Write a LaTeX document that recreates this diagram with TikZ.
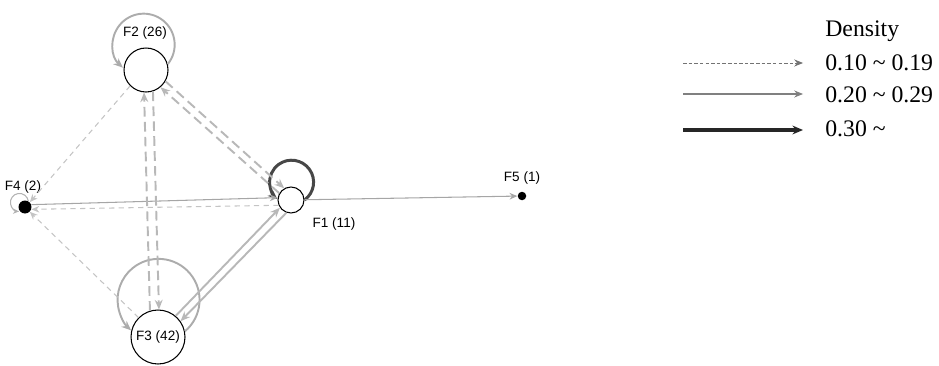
\documentclass[tikz,border=0pt]{standalone}
\usepackage{fontspec}
\setmainfont{Liberation Serif}
\setsansfont{Liberation Sans}
\usetikzlibrary{arrows.meta,positioning}
\definecolor{lightedge}{HTML}{C4C4C4}
\definecolor{midedge}{HTML}{B8B8B8}
\definecolor{darkloop}{HTML}{474747}
\tikzstyle{fnode}=[circle,draw=black,fill=white,line width=0.6pt,inner sep=0pt]
\tikzstyle{fdot}=[circle,fill=black,inner sep=0pt]
\tikzstyle{flabel}=[font=\sffamily\fontsize{7.7}{9}\selectfont,inner sep=1pt]
\tikzstyle{legtext}=[font=\fontsize{13.5}{16}\selectfont,anchor=west,inner sep=0pt]
\tikzstyle{weak}=[-{Stealth[length=4.5pt,width=3.8pt]},draw=lightedge,line width=0.6pt,dash pattern=on 3pt off 2.5pt]
\tikzstyle{middash}=[-{Stealth[length=5.5pt,width=4.5pt]},draw=midedge,line width=1.1pt,dash pattern=on 5.5pt off 3pt]
\tikzstyle{midsolid}=[-{Stealth[length=5.5pt,width=4.5pt]},draw=midedge,line width=1.1pt]
\tikzstyle{thinsolid}=[-{Stealth[length=4.5pt,width=3.8pt]},draw=gray!70,line width=0.6pt]
\tikzstyle{loopedge}=[-{Stealth[length=5.5pt,width=4.5pt]},draw=gray!65,line width=1.1pt]

\begin{document}
\begin{tikzpicture}[x=0.02cm,y=0.02cm]
\useasboundingbox (0,0) rectangle (939,-365);
% nodes
\node[fnode,minimum size=0.88cm] (F2) at (146,-70) {};
\node[fnode,minimum size=0.52cm] (F1) at (291,-200) {};
\node[fnode,minimum size=1.08cm,flabel] (F3) at (158,-337) {F3 (42)};
\node[fdot,minimum size=0.26cm] (F4) at (25,-207) {};
\node[fdot,minimum size=0.17cm] (F5) at (522,-196) {};
\node[flabel] (F2lab) at (145,-33) {F2 (26)};
\node[flabel] (F1lab) at (334,-224) {F1 (11)};
\node[flabel] (F4lab) at (23,-187) {F4 (2)};
\node[flabel] (F5lab) at (522,-178) {F5 (1)};
% loops
\draw[loopedge] (F2.15) arc[start angle=-39,end angle=228,radius=31];
\draw[loopedge] (F3.12) arc[start angle=-50,end angle=228,radius=41];
\draw[loopedge,draw=darkloop,line width=1.7pt] (F1.0) arc[start angle=-54,end angle=230,radius=22];
\draw[thinsolid,draw=gray!60,-{Stealth[length=3.5pt,width=3pt]}] (F4.61) arc[start angle=9,end angle=268,radius=9];
% edges
\draw[thinsolid] (F4.20) to (F1.170);
\draw[weak] (F1.203) to (F4.-20);
\draw[thinsolid] (F1) to (F5);
\draw[weak] (F2.225) to (F4.45);
\draw[weak] (F3.135) to (F4.-45);
\draw[middash] (F2.288) to (F3.88);
\draw[middash] (F3.107) to (F2.265);
\draw[middash] (F2.-30) to (F1.120);
\draw[middash] (F1.150) to (F2.-50);
\draw[midsolid] (F3.50) to (F1.215);
\draw[midsolid] (F1.250) to (F3.35);
% legend
\node[legtext] (dens) at (825,-31) {Density};
\coordinate (L1a) at (683,-63);
\coordinate (L1b) at (803,-63);
\coordinate (L2a) at (683,-94);
\coordinate (L2b) at (803,-94);
\coordinate (L3a) at (683,-130);
\coordinate (L3b) at (803,-130);
\draw[-{Stealth[length=5pt,width=4pt]},draw=gray!90!black,line width=0.5pt,dash pattern=on 2pt off 1.2pt] (L1a) to (L1b);
\draw[-{Stealth[length=5pt,width=4pt]},draw=gray,line width=0.6pt] (L2a) to (L2b);
\draw[-{Stealth[length=6pt,width=5pt]},draw=black!85,line width=1.8pt] (L3a) to (L3b);
\node[legtext] (leg1) at (825,-63) {0.10 \textasciitilde{} 0.19};
\node[legtext] (leg2) at (825,-95) {0.20 \textasciitilde{} 0.29};
\node[legtext] (leg3) at (825,-129) {0.30 \textasciitilde};
\end{tikzpicture}
\end{document}
